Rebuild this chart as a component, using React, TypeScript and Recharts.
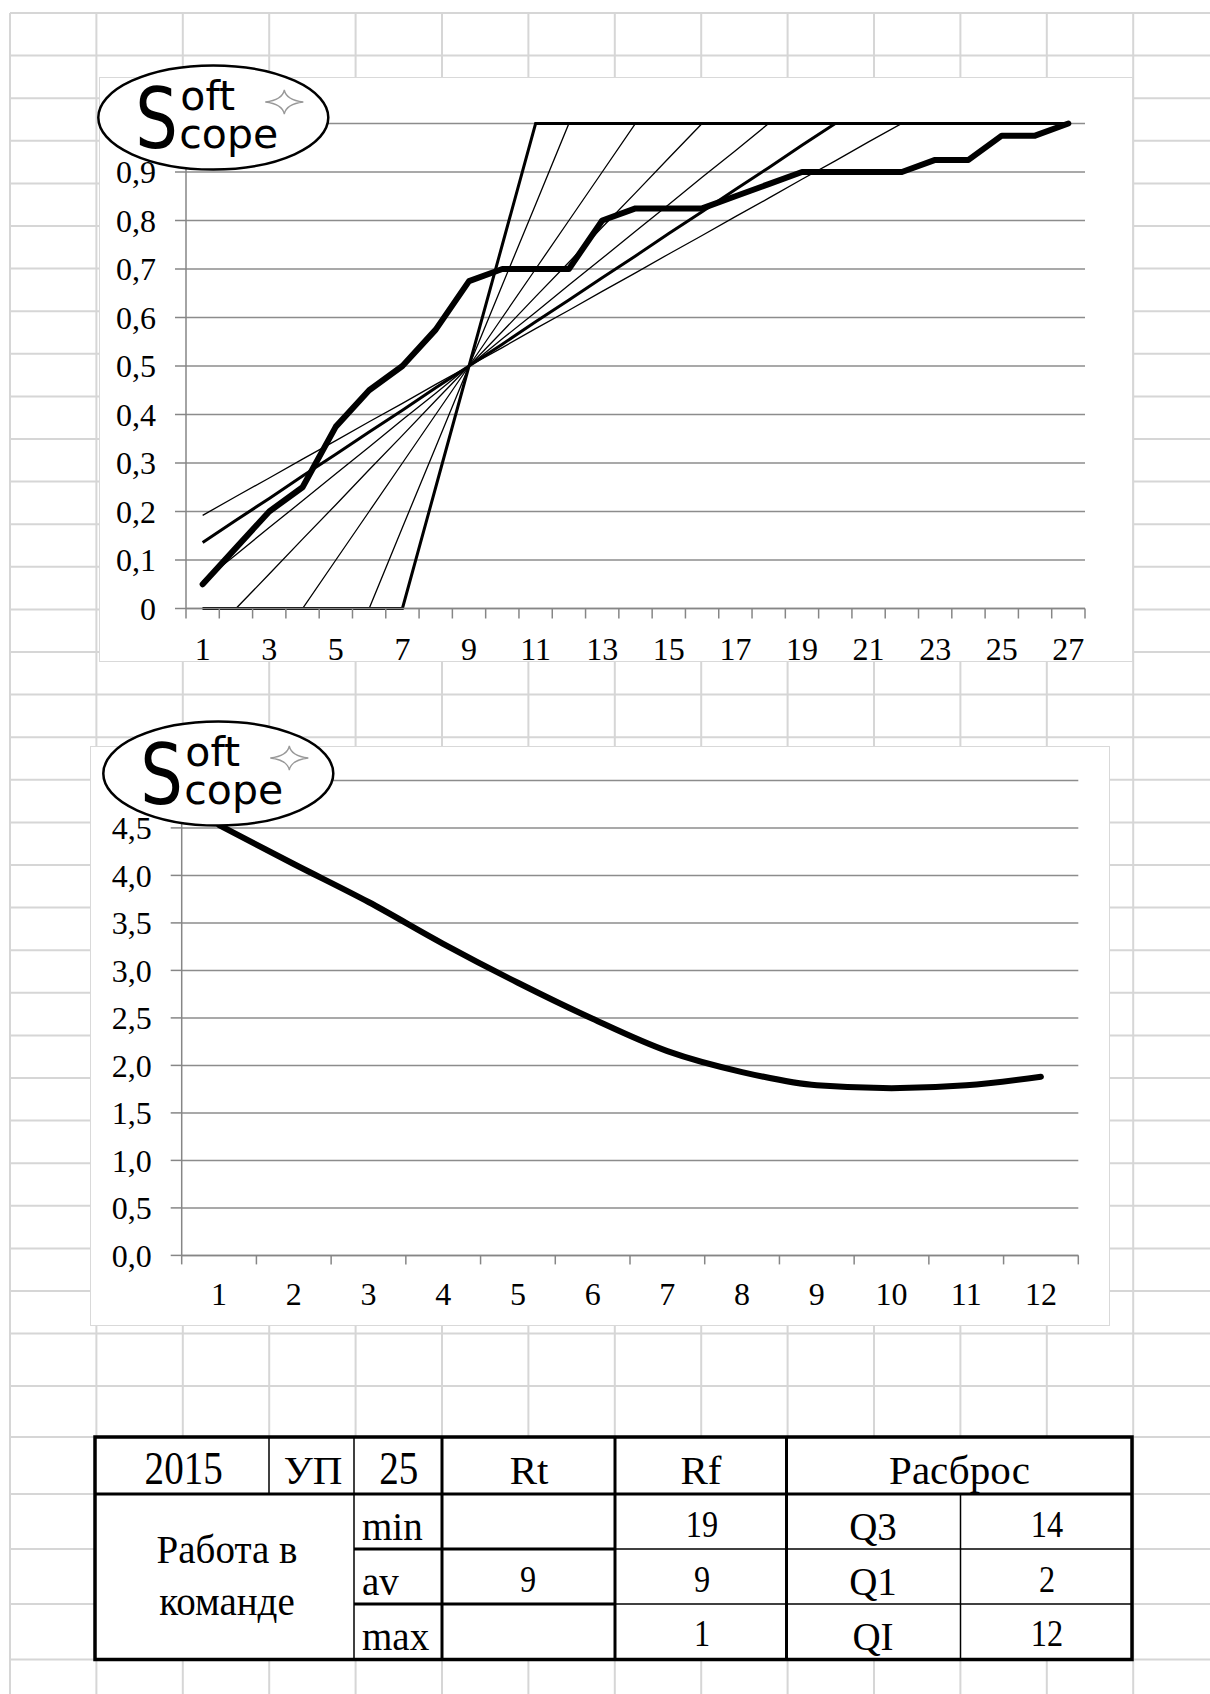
import { CartesianGrid, Line, LineChart, XAxis, YAxis } from "recharts";

const AXIS = "#868686";
const GRID = "#8c8c8c";
const SERIF = '"Liberation Serif", "Times New Roman", serif';
const SANS = '"DejaVu Sans", Verdana, sans-serif';

// upper chart: cumulative share by rank, with a fan of reference lines through (9; 0,5)
const ranks = [1, 2, 3, 4, 5, 6, 7, 8, 9, 10, 11, 12, 13, 14, 15, 16, 17, 18, 19, 20, 21, 22, 23, 24, 25, 26, 27];
const rankLabels = [1, 3, 5, 7, 9, 11, 13, 15, 17, 19, 21, 23, 25, 27];
const shareTicks = [0, 0.1, 0.2, 0.3, 0.4, 0.5, 0.6, 0.7, 0.8, 0.9, 1];
const cumulativeShare = [0.05, 0.125, 0.2, 0.25, 0.375, 0.45, 0.5, 0.575, 0.675, 0.7, 0.7, 0.7, 0.8, 0.825, 0.825, 0.825, 0.85, 0.875, 0.9, 0.9, 0.9, 0.9, 0.925, 0.925, 0.975, 0.975, 1];
const fanTo11 = [0, 0, 0, 0, 0, 0, 0, 0.25, 0.5, 0.75, 1, 1, 1, 1, 1, 1, 1, 1, 1, 1, 1, 1, 1, 1, 1, 1, 1];
const fanTo12 = [0, 0, 0, 0, 0, 0, 0.167, 0.333, 0.5, 0.667, 0.833, 1, 1, 1, 1, 1, 1, 1, 1, 1, 1, 1, 1, 1, 1, 1, 1];
const fanTo14 = [0, 0, 0, 0, 0.1, 0.2, 0.3, 0.4, 0.5, 0.6, 0.7, 0.8, 0.9, 1, 1, 1, 1, 1, 1, 1, 1, 1, 1, 1, 1, 1, 1];
const fanTo16 = [0, 0, 0.071, 0.143, 0.214, 0.286, 0.357, 0.429, 0.5, 0.571, 0.643, 0.714, 0.786, 0.857, 0.929, 1, 1, 1, 1, 1, 1, 1, 1, 1, 1, 1, 1];
const fanTo18 = [0.056, 0.111, 0.167, 0.222, 0.278, 0.333, 0.389, 0.444, 0.5, 0.556, 0.611, 0.667, 0.722, 0.778, 0.833, 0.889, 0.944, 1, 1, 1, 1, 1, 1, 1, 1, 1, 1];
const fanTo20 = [0.136, 0.182, 0.227, 0.273, 0.318, 0.364, 0.409, 0.455, 0.5, 0.545, 0.591, 0.636, 0.682, 0.727, 0.773, 0.818, 0.864, 0.909, 0.955, 1, 1, 1, 1, 1, 1, 1, 1];
const fanTo22 = [0.192, 0.231, 0.269, 0.308, 0.346, 0.385, 0.423, 0.462, 0.5, 0.538, 0.577, 0.615, 0.654, 0.692, 0.731, 0.769, 0.808, 0.846, 0.885, 0.923, 0.962, 1, 1, 1, 1, 1, 1];

// lower chart
const periods = [1, 2, 3, 4, 5, 6, 7, 8, 9, 10, 11, 12];
const spreadTicks = [0, 0.5, 1, 1.5, 2, 2.5, 3, 3.5, 4, 4.5, 5];
const spreadValues = [4.53, 4.12, 3.72, 3.28, 2.87, 2.49, 2.15, 1.93, 1.79, 1.76, 1.79, 1.88];

// table
const headerCells = ["2015", "УП", "25", "Rt", "Rf", "Расброс"];
const groupTitle = ["Работа в", "команде"];
const rowLabels = ["min", "av", "max"];
const rtValues = ["", "9", ""];
const rfValues = ["19", "9", "1"];
const quartileLabels = ["Q3", "Q1", "QI"];
const quartileValues = ["14", "2", "12"];

const shareData = ranks.map((r, i) => ({
  r,
  main: cumulativeShare[i],
  to11: fanTo11[i],
  to12: fanTo12[i],
  to14: fanTo14[i],
  to16: fanTo16[i],
  to18: fanTo18[i],
  to20: fanTo20[i],
  to22: fanTo22[i],
}));
const spreadData = periods.map((p, i) => ({ p, v: spreadValues[i] }));

// tick marks sit between categories, labels at the category centre
const rankTicks = [...ranks.map((r) => r - 0.5), ranks.length + 0.5, ...rankLabels];
const periodTicks = [...periods.map((p) => p - 0.5), periods.length + 0.5, ...periods];

const fans = [
  { key: "to12", w: 1.3 },
  { key: "to14", w: 1.3 },
  { key: "to16", w: 1.3 },
  { key: "to18", w: 1.3 },
  { key: "to22", w: 1.3 },
  { key: "to11", w: 3 },
  { key: "to20", w: 3 },
];

function SplitTick(props: any) {
  const { x, y, payload, labels, len, base } = props;
  const v = payload.value;
  if (!Number.isInteger(v)) {
    return <line x1={x} y1={y} x2={x} y2={y + len} stroke={AXIS} strokeWidth={1.5} />;
  }
  if (!labels.includes(v)) return <g />;
  return (
    <text x={x} y={y + base} textAnchor="middle" fill="#000" fontSize={32} fontFamily={SERIF}>
      {v}
    </text>
  );
}

const star = (x: number, y: number) =>
  `M${x} ${y - 12} Q${x + 2} ${y - 2} ${x + 19} ${y} Q${x + 2} ${y + 2} ${x} ${y + 12} Q${x - 2} ${y + 2} ${x - 19} ${y} Q${x - 2} ${y - 2} ${x} ${y - 12}Z`;

function Logo({ cx, cy }: { cx: number; cy: number }) {
  return (
    <g>
      <ellipse cx={cx} cy={cy} rx={115} ry={52} fill="#fff" stroke="#000" strokeWidth={2.5} />
      <text transform={`translate(${cx - 78} ${cy + 30.5}) scale(0.8 1)`} fontFamily={SANS} fontSize={84} fill="#000">
        S
      </text>
      <text x={cx - 33} y={cy - 7.5} fontFamily={SANS} fontSize={41} fill="#000">
        oft
      </text>
      <text x={cx - 34} y={cy + 30.5} fontFamily={SANS} fontSize={41} fill="#000">
        cope
      </text>
      <path d={star(cx + 71, cy - 15.5)} fill="#fff" stroke="#999" strokeWidth={1.3} />
    </g>
  );
}

function T({ x, y, size, sx = 1, anchor = "middle", children }: any) {
  return (
    <text transform={`translate(${x} ${y}) scale(${sx} 1)`} textAnchor={anchor} fontSize={size} fontFamily={SERIF} fill="#000">
      {children}
    </text>
  );
}

function Table() {
  const headX = [183.7, 313, 398.7, 529, 701, 959.5];
  const labelY = [1540, 1595, 1650];
  const valueY = [1537, 1592, 1646];
  return (
    <g>
      <rect x={95} y={1437} width={1037} height={222.5} fill="#fff" stroke="#000" strokeWidth={3.5} />
      <line x1={95} x2={1132} y1={1494} y2={1494} stroke="#000" strokeWidth={3} />
      <line x1={269} x2={269} y1={1437} y2={1494} stroke="#000" strokeWidth={1.5} />
      <line x1={354} x2={354} y1={1437} y2={1659.5} stroke="#000" strokeWidth={1.5} />
      {[442, 615, 786.5].map((x) => (
        <line key={x} x1={x} x2={x} y1={1437} y2={1659.5} stroke="#000" strokeWidth={3} />
      ))}
      <line x1={960.5} x2={960.5} y1={1494} y2={1659.5} stroke="#000" strokeWidth={1.5} />
      {[1549, 1604].map((y) => (
        <g key={y}>
          <line x1={354} x2={615} y1={y} y2={y} stroke="#000" strokeWidth={3} />
          <line x1={615} x2={1132} y1={y} y2={y} stroke="#000" strokeWidth={1.5} />
        </g>
      ))}
      {headerCells.map((c, i) =>
        /^\d+$/.test(c) ? (
          <T key={c} x={headX[i]} y={1484} size={46} sx={0.85}>
            {c}
          </T>
        ) : (
          <T key={c} x={headX[i]} y={1484} size={41}>
            {c}
          </T>
        )
      )}
      <T x={227} y={1563} size={39}>
        {groupTitle[0]}
      </T>
      <T x={227} y={1615} size={39}>
        {groupTitle[1]}
      </T>
      {rowLabels.map((l, i) => (
        <T key={l} x={362} y={labelY[i]} size={39} anchor="start">
          {l}
        </T>
      ))}
      {rtValues.map((v, i) => (
        <T key={"rt" + i} x={528} y={valueY[i]} size={38} sx={0.85}>
          {v}
        </T>
      ))}
      {rfValues.map((v, i) => (
        <T key={"rf" + i} x={702} y={valueY[i]} size={38} sx={0.85}>
          {v}
        </T>
      ))}
      {quartileLabels.map((l, i) => (
        <T key={l} x={873} y={labelY[i]} size={39}>
          {l}
        </T>
      ))}
      {quartileValues.map((v, i) => (
        <T key={"q" + i} x={1047} y={valueY[i]} size={38} sx={0.85}>
          {v}
        </T>
      ))}
    </g>
  );
}

function SheetGrid() {
  const cols = [];
  for (let k = 0; k <= 13; k++) cols.push(10 + 86.4 * k);
  const rows = [];
  for (let k = 0; k <= 31; k++) rows.push(13 + 42.6 * k);
  rows.push(1386, 1437, 1494, 1549, 1604, 1659.5);
  return (
    <svg width={1210} height={1694} style={{ position: "absolute", left: 0, top: 0 }}>
      {cols.map((x) => (
        <line key={"c" + x} x1={x} x2={x} y1={13} y2={1694} stroke="#d6d6d6" strokeWidth={2} />
      ))}
      {rows.map((y) => (
        <line key={"r" + y} x1={10} x2={1210} y1={y} y2={y} stroke="#d6d6d6" strokeWidth={2} />
      ))}
    </svg>
  );
}

const boxStyle = (left: number, top: number, width: number, height: number) => ({
  position: "absolute" as const,
  left,
  top,
  width,
  height,
  background: "#fff",
  boxShadow: "inset 0 0 0 1px #d9d9d9",
});

export default function App() {
  return (
    <div style={{ position: "absolute", left: 0, top: 0, width: 1210, height: 1694, background: "#fff", overflow: "hidden" }}>
      <SheetGrid />

      <div style={boxStyle(99, 77, 1034, 585)}>
        <LineChart width={1034} height={602} data={shareData} margin={{ top: 46.5, right: 48, bottom: 17, left: 0 }}>
          <CartesianGrid vertical={false} stroke={GRID} strokeWidth={1.5} />
          <XAxis
            dataKey="r"
            type="number"
            domain={[0.5, 27.5]}
            ticks={rankTicks}
            interval={0}
            height={53.5}
            tickSize={0}
            tickMargin={0}
            tickLine={false}
            axisLine={{ stroke: AXIS, strokeWidth: 1.5 }}
            tick={(p: any) => <SplitTick {...p} labels={rankLabels} len={10} base={51} />}
          />
          <YAxis
            type="number"
            domain={[0, 1]}
            ticks={shareTicks}
            interval={0}
            width={87}
            tickSize={11}
            tickMargin={19}
            tickLine={{ stroke: AXIS, strokeWidth: 1.5 }}
            axisLine={{ stroke: AXIS, strokeWidth: 1.5 }}
            tick={{ fill: "#000", fontSize: 32, fontFamily: SERIF }}
            tickFormatter={(v: number) => (v === 0 ? "0" : v.toFixed(1).replace(".", ","))}
          />
          {fans.map((f) => (
            <Line
              key={f.key}
              dataKey={f.key}
              type="linear"
              stroke="#000"
              strokeWidth={f.w}
              dot={false}
              activeDot={false}
              isAnimationActive={false}
            />
          ))}
          <Line
            dataKey="main"
            type="linear"
            stroke="#000"
            strokeWidth={6}
            strokeLinejoin="round"
            strokeLinecap="round"
            dot={false}
            activeDot={false}
            isAnimationActive={false}
          />
        </LineChart>
      </div>

      <div style={boxStyle(90, 746, 1020, 580)}>
        <LineChart width={1020} height={580} data={spreadData} margin={{ top: 34.4, right: 31.7, bottom: 0, left: 0 }}>
          <CartesianGrid vertical={false} stroke={GRID} strokeWidth={1.5} />
          <XAxis
            dataKey="p"
            type="number"
            domain={[0.5, 12.5]}
            ticks={periodTicks}
            interval={0}
            height={70.6}
            tickSize={0}
            tickMargin={0}
            tickLine={false}
            axisLine={{ stroke: AXIS, strokeWidth: 1.5 }}
            tick={(p: any) => <SplitTick {...p} labels={periods} len={9} base={50} />}
          />
          <YAxis
            type="number"
            domain={[0, 5]}
            ticks={spreadTicks}
            interval={0}
            width={91.7}
            tickSize={11}
            tickMargin={19}
            tickLine={{ stroke: AXIS, strokeWidth: 1.5 }}
            axisLine={{ stroke: AXIS, strokeWidth: 1.5 }}
            tick={{ fill: "#000", fontSize: 32, fontFamily: SERIF }}
            tickFormatter={(v: number) => v.toFixed(1).replace(".", ",")}
          />
          <Line
            dataKey="v"
            type="monotone"
            stroke="#000"
            strokeWidth={6}
            strokeLinecap="round"
            dot={false}
            activeDot={false}
            isAnimationActive={false}
          />
        </LineChart>
      </div>

      <svg width={1210} height={1694} style={{ position: "absolute", left: 0, top: 0, pointerEvents: "none" }}>
        <Logo cx={213.3} cy={117.5} />
        <Logo cx={218.3} cy={773.5} />
        <Table />
      </svg>
    </div>
  );
}
